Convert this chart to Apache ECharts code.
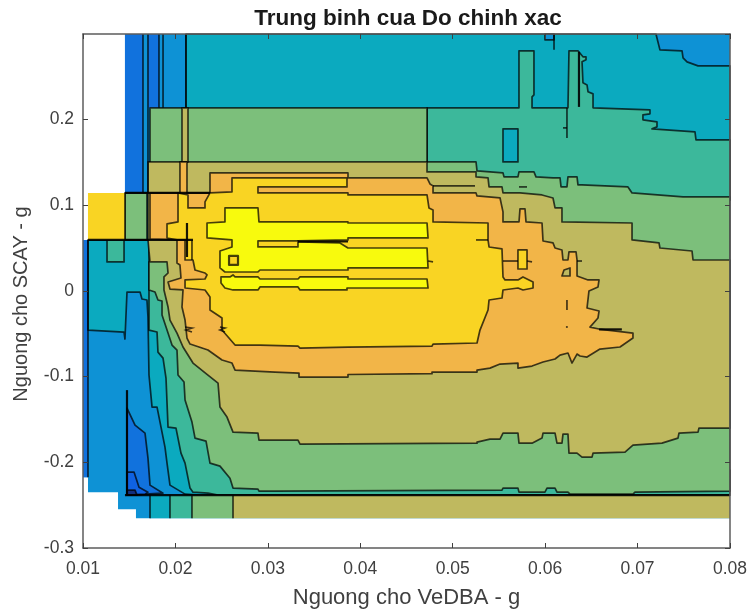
<!DOCTYPE html>
<html><head><meta charset="utf-8">
<style>html,body{margin:0;padding:0;background:#fff}#c{width:752px;height:614px}</style>
<script src="https://cdn.jsdelivr.net/npm/echarts@6/dist/echarts.min.js"></script>
</head><body><div id="c"></div>
<script>
const xTicks = [0.01,0.02,0.03,0.04,0.05,0.06,0.07,0.08];
const domain = [[14.54,300],[80,300],[80,-265.2],[15.73,-265.2],[15.73,-254.7],[13.79,-254.7],[13.79,-234.8],[10.54,-234.8],[10.54,-217.3],[10,-217.3],[10,59.6],[10.54,59.6],[10.54,114.5],[14.54,114.5]];
const deepTop1 = [[14.54,300],[16.49,300],[16.49,114.5],[14.54,114.5]];
const deepTop2 = [[17.03,300],[18.22,300],[18.22,213.8],[17.03,213.8]];
const deepLeft = [[10,59.6],[10.54,59.6],[10.54,-217.3],[10,-217.3]];
const tealTop = [[21.14,300],[71.99,300],[72.42,281.5],[74.81,280.4],[74.92,272.2],[75.35,267.5],[76.54,262.8],[80,262.8],[80,106.3],[21.14,106.3]];
const tealLeft = [[10.54,59.6],[18.33,59.6],[33.48,-10.5],[33.48,-238.3],[22.66,-238.3],[21.04,-237.1],[19.41,-226.6],[19.09,-200.9],[18.87,-182.2],[18.01,-135.5],[17.47,-135.5],[17.14,-98.1],[17.03,-30.4],[16.92,-10.5],[16.38,-9.3],[16.17,-1.2],[14.76,-1.2],[14.54,-56.1],[14.44,-47.9],[10.54,-45.6]];
const mintTop = [[47.22,213.8],[57.17,213.8],[57.17,280.4],[58.79,280.4],[58.79,229],[58.58,226.6],[58.58,213.8],[62.47,213.8],[62.58,280.4],[63.55,280.4],[64.09,273.4],[64.42,273.4],[64.42,269.9],[63.99,267.5],[64.09,243],[64.53,240.6],[64.64,232.5],[65.18,230.1],[65.18,213.8],[71.34,211.4],[71.34,206.8],[70.58,205.6],[70.58,199.8],[72.1,197.4],[72.1,191.6],[71.56,189.3],[76.21,185.7],[76.32,176.4],[80,176.4],[80,106.3],[47.22,106.3]];
const mintLow = [[17.14,33.9],[17.14,-45.6],[18.01,-47.9],[18.11,-71.3],[18.66,-78.3],[18.98,-101.6],[19.2,-158.9],[20.06,-160],[20.6,-189.3],[21.04,-200.9],[21.58,-230.1],[21.9,-234.8],[23.52,-236],[24.61,-238.3],[80,-238.3],[80,-209.1],[33.48,-209.1],[33.48,33.9]];
const mintSquare = [[12.6,59.6],[14.44,59.6],[14.44,33.9],[12.6,33.9]];
const tealHole = [[55.44,189.3],[57.06,189.3],[57.06,150.7],[55.44,150.7]];
const blueCap = [[59.98,300],[60.96,300],[60.96,293.2],[59.98,293.2]];
const greenMain = [[17.25,213.8],[47.22,213.8],[47.22,150.7],[52.52,150.7],[52.63,140.2],[55.44,137.8],[55.55,133.2],[57.06,133.2],[57.17,139],[58.79,139],[59.01,133.2],[60.85,132],[61.61,132],[61.72,121.5],[62.36,121.5],[62.47,133.2],[63.45,133.2],[63.55,123.8],[63.99,123.8],[68.96,121.5],[69.4,114.5],[74.92,109.8],[80,109.8],[80,-233.6],[69.72,-234.8],[69.5,-237.1],[62.69,-237.1],[62.47,-234.8],[61.28,-234.8],[61.07,-230.1],[60.2,-230.1],[59.98,-234.8],[57.17,-234.8],[57.06,-230.1],[55.44,-230.1],[55.33,-232.5],[30.77,-233.6],[29.04,-233.6],[28.93,-231.3],[26.23,-230.1],[25.9,-218.5],[24.82,-204.4],[23.74,-200.9],[23.31,-175.2],[22.12,-171.7],[21.79,-153],[21.04,-127.3],[20.93,-106.3],[20.28,-98.1],[20.17,-68.9],[19.63,-63.1],[19.2,-49.1],[18.55,-28],[18.55,-11.7],[18.11,-10.5],[17.79,-1.2],[17.14,1.2],[17.14,59.6],[17.25,59.6]];
const greenBlock = [[14.54,114.5],[16.92,114.5],[16.92,59.6],[14.54,59.6]];
const oliveMain = [[17.03,150.7],[47.22,150.7],[47.22,139],[52.52,139],[52.52,133.2],[53.82,132],[53.93,121.5],[55.33,121.5],[55.44,114.5],[57.28,114.5],[59.66,112.1],[60.85,108.6],[61.07,97],[61.82,97],[61.82,80.6],[69.4,79.4],[69.4,59.6],[72.32,56.1],[72.42,50.2],[75.89,46.7],[76,36.2],[80,36.2],[80,-160],[76.64,-160],[76.54,-164.7],[74.48,-165.9],[74.37,-171.7],[72.64,-177.6],[69.5,-179.9],[68.64,-188.1],[65.18,-189.3],[65.07,-193.9],[63.99,-193.9],[63.45,-189.3],[62.58,-189.3],[62.47,-167.1],[61.93,-167.1],[61.82,-177.6],[61.28,-177.6],[61.07,-165.9],[59.77,-165.9],[59.66,-171.7],[58.58,-177.6],[57.17,-177.6],[57.06,-165.9],[55.44,-165.9],[55.12,-172.9],[54.03,-172.9],[52.63,-176.4],[52.63,-177.6],[33.48,-178.7],[33.26,-174.1],[29.04,-174.1],[28.93,-165.9],[26.23,-164.7],[25.58,-147.2],[24.82,-135.5],[24.61,-107.5],[23.52,-98.1],[21.9,-84.1],[20.82,-65.4],[20.17,-49.1],[19.41,-33.9],[19.2,-18.7],[18.76,1.2],[18.76,16.4],[19.2,21],[19.09,33.9],[17.25,33.9],[17.03,59.6]];
const oliveStrip = [[20.71,213.8],[21.36,213.8],[21.36,150.7],[20.71,150.7]];
const oliveLobe = [[61.82,17.5],[62.69,17.5],[62.69,26.9],[62.04,24.5]];
const orangeMain = [[23.74,137.8],[38.67,137.8],[38.67,132],[47.22,132],[47.54,125],[47.87,122.7],[47.87,114.5],[52.52,114.5],[52.63,111],[55.12,108.6],[55.44,92.3],[55.44,80.6],[57.17,80.6],[57.28,95.8],[57.82,95.8],[57.93,80.6],[59.66,79.4],[59.77,58.4],[60.85,56.1],[61.07,50.2],[61.82,47.9],[61.93,36.2],[62.47,36.2],[62.58,45.6],[63.34,45.6],[63.45,36.2],[63.45,17.5],[64.64,12.9],[65.83,12.9],[65.72,4.7],[64.74,0],[64.53,-19.9],[65.83,-23.4],[65.72,-31.5],[64.85,-42.1],[65.83,-44.4],[69.5,-49.1],[69.5,-54.9],[68.1,-65.4],[65.93,-67.8],[64.53,-77.1],[63.77,-75.9],[63.45,-73.6],[62.9,-84.1],[62.47,-72.4],[61.61,-74.8],[61.07,-79.4],[59.77,-82.9],[58.58,-87.6],[57.06,-90],[57.06,-84.1],[55.12,-85.3],[54.03,-90],[52.63,-92.3],[52.63,-94.6],[47.76,-94.6],[47.76,-96.5],[38.67,-97.5],[38.67,-100.5],[33.37,-100.5],[33.37,-95.8],[30.77,-94.6],[26.45,-92.3],[26.12,-84.1],[25.04,-80.6],[23.52,-68.9],[21.58,-61.9],[21.25,-54.9],[21.04,-33.9],[20.71,-18.7],[20.82,1.2],[19.41,2.3],[19.2,10.5],[20.6,15.2],[20.49,30.4],[20.17,32.7],[20.17,59.6],[17.25,60.7],[17.25,114.5],[20.49,114.5],[20.49,150.7],[21.25,150.7],[21.25,114.5],[23.74,114.5]];
const orangeSquare = [[23.85,-11.7],[24.71,-11.7],[24.71,-21],[23.85,-21]];
const yellowMain = [[26.12,132],[38.56,132],[38.56,121.5],[28.93,121.5],[28.93,114.5],[38.67,114.5],[38.67,112.1],[47.22,112.1],[47.43,97],[47.87,94.6],[47.87,80.6],[53.82,79.4],[53.82,59.6],[53.93,51.4],[55.33,49.1],[55.44,16.4],[55.66,12.9],[57.06,12.9],[57.6,16.4],[58.69,10.5],[58.69,3.5],[57.6,1.2],[57.06,3.5],[55.44,1.2],[55.33,-8.2],[53.93,-10.5],[53.82,-22.2],[52.95,-45.6],[52.63,-60.7],[47.87,-61.9],[47.76,-64.3],[38.67,-65.4],[33.48,-66.6],[33.26,-64.3],[29.15,-63.1],[26.45,-63.1],[25.04,-45.6],[25.04,-31.5],[23.74,-22.2],[23.74,-7],[23.2,1.2],[21.04,3.5],[21.04,12.9],[23.2,14],[23.42,18.7],[23.2,21],[22.12,24.5],[21.9,36.2],[21.04,36.2],[21.04,59.6],[20.17,59.6],[19.09,61.9],[19.09,78.3],[20.28,80.6],[20.28,114.5],[21.36,112.1],[21.36,97],[23.2,97],[23.2,104],[23.74,114.5],[26.12,115.7]];
const yellowPatch = [[10.54,114.5],[14.54,114.5],[14.54,59.6],[10.54,59.6]];
const yellowPill = [[57.06,47.9],[58.04,47.9],[58.04,25.7],[57.06,25.7]];
const peakUpper = [[25.36,97],[28.93,97],[29.04,80.6],[38.67,80.6],[38.67,79.4],[47.22,79.4],[47.33,61.9],[38.67,61.9],[38.67,59.6],[33.26,58.4],[33.26,57.2],[37.8,56.1],[38.67,50.2],[47.22,50.2],[47.33,26.9],[38.67,26.9],[38.67,24.5],[29.15,24.5],[28.93,22.2],[25.36,22.2],[24.82,26.9],[24.82,46.7],[26.12,51.4],[26.12,59.6],[23.42,61.9],[23.42,79.4],[25.36,80.6]];
const peakLower = [[24.93,16.4],[25.9,16.4],[26.23,18.7],[26.45,16.4],[28.93,16.4],[29.15,14],[33.26,14],[33.48,16.4],[38.67,16.4],[38.67,14],[47.22,14],[47.33,3.5],[38.56,3.5],[38.56,1.2],[33.48,1.2],[33.26,4.7],[29.15,4.7],[28.93,1.2],[26.23,1.2],[25.36,3.5],[24.93,9.3]];
const peakGap = [[28.93,58.4],[33.26,58.4],[33.26,51.4],[28.93,51.4]];
const peakDot = [[25.8,40.9],[26.77,40.9],[26.77,30.4],[25.8,30.4]];
const lowBlue = [[14.76,-136.7],[15.63,-156.5],[16.71,-165.9],[17.03,-195.1],[17.25,-226.6],[18.66,-236],[14.76,-238.3]];
const lowerBlue = [[14.76,-211.4],[15.52,-211.4],[16.06,-229],[17.03,-234.8],[16.71,-237.1],[14.76,-238.3]];
const lowestBlue = [[14.76,-232.5],[15.63,-232.5],[15.84,-238.3],[14.76,-238.3]];
const floorTeal = [[17.25,-238.3],[19.41,-238.3],[19.41,-265.2],[17.25,-265.2]];
const floorMint = [[19.41,-238.3],[21.79,-238.3],[21.79,-265.2],[19.41,-265.2]];
const floorGreen = [[21.79,-238.3],[26.23,-238.3],[26.23,-265.2],[21.79,-265.2]];
const floorOlive = [[26.23,-238.3],[80,-238.3],[80,-265.2],[26.23,-265.2]];

const thinMarks = [
 [[16.49,300],[16.49,114.5]],[[17.03,300],[17.03,114.5]],[[18.22,300],[18.22,213.8]],[[18.66,300],[18.66,213.8]],[[21.14,300],[21.14,213.8]],
 [[14.54,114.5],[14.54,59.6]],[[10.54,59.6],[10.54,-217.3]],
 [[17.25,-238.3],[17.25,-265.2]],[[19.41,-238.3],[19.41,-265.2]],[[21.79,-238.3],[21.79,-265.2]],[[26.23,-238.3],[26.23,-265.2]],
 [[47.33,35],[47.87,33.9]],[[55.44,35],[57.06,35]],[[58.04,35],[58.58,33.9]],[[47.87,122.7],[52.41,122.7]],[[52.52,59.6],[53.82,59.6]],
 [[62.36,213.8],[62.36,178.7]],[[61.93,190.4],[62.36,190.4]],[[60.96,300],[60.96,281.5]],[[57.17,121.5],[58.04,121.5]],[[63.45,35],[63.99,35]],
 [[62.36,-10.5],[62.36,-22.2]],[[62.25,-42],[62.45,-42]],[[21.79,59.6],[21.79,36.2]],
 [[21.04,-42],[21.79,-43.2],[21.14,-45.6],[21.79,-47.9]],[[24.82,-42],[25.36,-43.2],[24.82,-45.6],[25.36,-47.9]]
];
const thickMarks = [
 [[10.54,59.6],[21.9,59.6]],[[14.54,114.5],[23.74,114.5]],[[14.54,-238.3],[80,-238.3]],[[14.76,-115.7],[14.76,-238.3]],
 [[63.66,279.2],[63.66,214.9]],[[65.83,-44.8],[68.3,-44.8]],[[21.25,79.4],[21.25,39.7]],[[33.26,57.8],[38.67,57.8]]
];

const C = {L00:'#12307f',L0a:'#0f62e2',L0:'#1172dd',L1:'#0e92d5',L2:'#0baabf',L3:'#3cb89b',L4:'#7cbf7b',L5:'#bfb95f',L6:'#f2b548',L7:'#f9d423',L8:'#f8fa0d'};
const layers = [
 [domain,C.L1,0],[deepTop1,C.L0,0],[deepTop2,C.L0,0],[deepLeft,C.L0,0],
 [tealTop,C.L2,1],[tealLeft,C.L2,1],[mintTop,C.L3,1],[mintLow,C.L3,1],[mintSquare,C.L3,1],[tealHole,C.L2,1],[blueCap,C.L1,1],
 [lowBlue,C.L0,1],[lowerBlue,C.L0a,1],[lowestBlue,C.L00,1],
 [floorTeal,C.L2,0],[floorMint,C.L3,0],[floorGreen,C.L4,0],[floorOlive,C.L5,0],
 [greenMain,C.L4,1],[greenBlock,C.L4,1],[oliveMain,C.L5,1],[oliveStrip,C.L5,1],
 [orangeMain,C.L6,1],[oliveLobe,C.L5,1],[orangeSquare,C.L6,1],
 [yellowMain,C.L7,1],[yellowPatch,C.L7,0],[yellowPill,C.L7,1],
 [peakUpper,C.L8,1],[peakLower,C.L8,1],[peakGap,C.L7,1],[peakDot,C.L7,2]
];
const toPts = (api,pts)=>pts.map(p=>api.coord([p[0]/1000,p[1]/1000]));

const chart = echarts.init(document.getElementById('c'));
const font = 'Liberation Sans, Helvetica, Arial, sans-serif';
const axisLine = {show:true,onZero:false,lineStyle:{color:'#5c5c5c',width:1.5}};
const tick = {show:true,inside:true,length:5,lineStyle:{color:'#404040',width:1}};
chart.setOption({
 animation:false,
 backgroundColor:'#fff',
 title:{text:'Trung binh cua Do chinh xac',left:403,top:2,textAlign:'center',textStyle:{fontFamily:font,fontWeight:'bold',fontSize:22.5,color:'#1a1a1a'}},
 grid:{left:83,right:22,top:34,bottom:66,containLabel:false,outerBoundsMode:'none'},
 xAxis:[
  {type:'value',min:0.01,max:0.08,interval:0.01,position:'bottom',z:5,name:'Nguong cho VeDBA - g',nameLocation:'middle',nameGap:39,nameTextStyle:{fontFamily:font,fontSize:22,color:'#404040'},axisLine,axisTick:tick,splitLine:{show:false},axisLabel:{fontFamily:font,fontSize:17.5,color:'#404040',margin:12}},
  {type:'value',min:0.01,max:0.08,interval:0.01,position:'top',z:5,axisLine,axisTick:tick,splitLine:{show:false},axisLabel:{show:false}}
 ],
 yAxis:[
  {type:'value',min:-0.3,max:0.3,interval:0.1,position:'left',z:5,name:'Nguong cho SCAY - g',nameLocation:'middle',nameGap:52,nameTextStyle:{fontFamily:font,fontSize:20,color:'#404040',padding:[0,26,0,0]},axisLine,axisTick:tick,splitLine:{show:false},axisLabel:{fontFamily:font,fontSize:17.5,color:'#404040',margin:9,showMaxLabel:false}},
  {type:'value',min:-0.3,max:0.3,interval:0.1,position:'right',z:5,axisLine,axisTick:tick,splitLine:{show:false},axisLabel:{show:false}}
 ],
 series:[
  {type:'custom',coordinateSystem:'cartesian2d',z:2,silent:true,
   data:layers.map((l,i)=>[l[0][0][0]/1000,l[0][0][1]/1000,i]),
   encode:{x:0,y:1},
   renderItem:(p,api)=>{const l=layers[api.value(2)];return {type:'polygon',shape:{points:toPts(api,l[0])},style:{fill:l[1],stroke:l[2]?'rgba(0,0,0,0.72)':null,lineWidth:l[2]===2?2.2:1.7,lineJoin:'round'}};}},
  {type:'custom',coordinateSystem:'cartesian2d',z:3,silent:true,
   data:thinMarks.map((m,i)=>[m[0][0]/1000,m[0][1]/1000,i]),encode:{x:0,y:1},
   renderItem:(p,api)=>({type:'polyline',shape:{points:toPts(api,thinMarks[api.value(2)])},style:{fill:null,stroke:'rgba(0,0,0,0.72)',lineWidth:1.7}})},
  {type:'custom',coordinateSystem:'cartesian2d',z:3,silent:true,
   data:thickMarks.map((m,i)=>[m[0][0]/1000,m[0][1]/1000,i]),encode:{x:0,y:1},
   renderItem:(p,api)=>({type:'polyline',shape:{points:toPts(api,thickMarks[api.value(2)])},style:{fill:null,stroke:'rgba(0,0,0,0.9)',lineWidth:2.2}})}
 ]
});
</script></body></html>
